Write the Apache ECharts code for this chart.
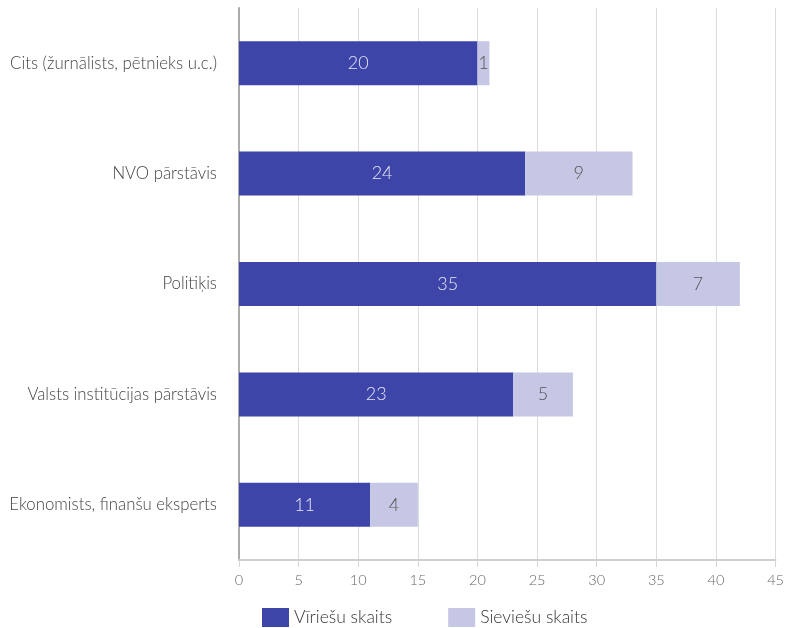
<!DOCTYPE html>
<html><head><meta charset="utf-8">
<script src="https://cdn.jsdelivr.net/npm/echarts@6/dist/echarts.min.js"></script>
<style>html,body{margin:0;padding:0;background:#fff}#c{width:787px;height:628px}</style>
</head><body><div id="c"></div>
<script>
const categories = ["Cits (žurnālists, pētnieks u.c.)", "NVO pārstāvis", "Politiķis", "Valsts institūcijas pārstāvis", "Ekonomists, finanšu eksperts"];
const seriesNames = ["Vīriešu skaits", "Sieviešu skaits"];
const men = [20, 24, 35, 23, 11];
const women = [1, 9, 7, 5, 4];
const xMin = 0, xMax = 45, xStep = 5;

const FONT = "Lato";
const chart = echarts.init(document.getElementById('c'), null, {renderer: 'canvas'});
chart.setOption({
  animation: false,
  textStyle: {fontFamily: FONT},
  grid: {left: 239, right: 8, top: 8, bottom: 68},
  legend: {
    bottom: -4, left: 257, itemWidth: 27, itemHeight: 19, itemGap: 56,
    icon: 'rect',
    textStyle: {fontFamily: FONT, fontSize: 17.5, color: '#333', fontWeight: 300},
    data: seriesNames
  },
  xAxis: {
    type: 'value', min: xMin, max: xMax, interval: xStep,
    axisLine: {show: true, lineStyle: {color: '#cfcfcf', width: 2}},
    axisTick: {show: true, length: 7, lineStyle: {color: '#d6d6d6'}},
    axisLabel: {fontFamily: FONT, fontSize: 14.5, color: '#666', margin: 13, fontWeight: 300},
    splitLine: {show: true, lineStyle: {color: '#dcdcdc', width: 1}}
  },
  yAxis: {
    type: 'category', data: categories, inverse: true,
    axisLine: {show: true, lineStyle: {color: '#ababab', width: 2}},
    axisTick: {show: false},
    axisLabel: {fontFamily: FONT, fontSize: 16.8, color: '#444', margin: 22, fontWeight: 300},
    splitLine: {show: false}
  },
  series: [
    {name: seriesNames[0], type: 'bar', stack: 's', data: men, barWidth: 44,
     itemStyle: {color: '#3d45a9'},
     label: {show: true, position: 'inside', fontFamily: FONT, fontSize: 18, color: '#e6e7f5', fontWeight: 300}},
    {name: seriesNames[1], type: 'bar', stack: 's', data: women, barWidth: 44,
     itemStyle: {color: '#c5c7e5'},
     label: {show: true, position: 'inside', fontFamily: FONT, fontSize: 18, color: '#555', fontWeight: 300}}
  ]
});
</script></body></html>
